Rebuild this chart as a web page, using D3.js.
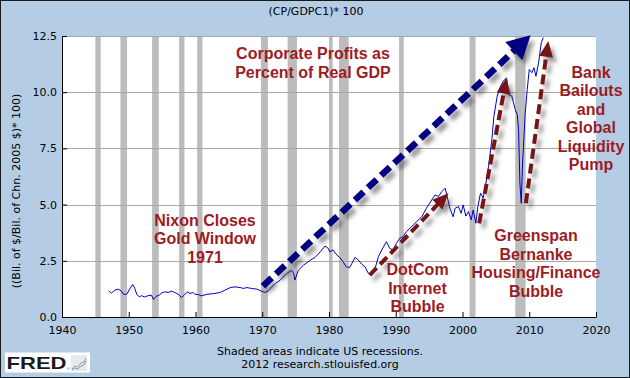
<!DOCTYPE html>
<html><head><meta charset="utf-8">
<script src="https://cdn.jsdelivr.net/npm/d3@7"></script>
<style>html,body{margin:0;padding:0;background:#fff;}svg{display:block;}</style>
</head><body>
<script>
// ---- data ----
const years = [1947.0,1947.4,1947.9,1948.4,1948.9,1949.2,1949.7,1950.2,1950.6,1950.9,1951.2,1951.6,1951.9,1952.4,1952.9,1953.4,1953.7,1954.1,1954.6,1954.9,1955.4,1955.9,1956.4,1956.9,1957.4,1957.9,1958.3,1958.8,1959.2,1959.6,1959.9,1960.4,1960.9,1961.7,1962.7,1963.7,1964.4,1965.2,1965.9,1966.7,1967.2,1967.7,1968.4,1969.2,1969.9,1970.4,1970.9,1971.4,1972.0,1972.7,1973.7,1974.4,1974.7,1974.9,1975.4,1976.2,1977.2,1977.9,1978.7,1979.4,1979.9,1980.1,1980.6,1981.2,1981.6,1982.1,1982.6,1983.1,1983.9,1984.4,1984.9,1985.4,1985.9,1986.4,1986.9,1987.4,1987.9,1988.6,1989.1,1989.6,1990.1,1990.6,1991.1,1991.6,1992.4,1993.1,1993.9,1994.6,1995.4,1995.9,1996.4,1996.9,1997.4,1997.7,1998.1,1998.6,1998.9,1999.4,1999.8,2000.1,2000.5,2000.9,2001.3,2001.6,2002.0,2002.3,2002.7,2003.1,2003.6,2003.9,2004.4,2004.7,2005.2,2005.6,2006.1,2006.6,2006.9,2007.4,2007.9,2008.2,2008.4,2008.6,2008.8,2009.0,2009.4,2009.7,2010.0,2010.4,2010.7,2011.0,2011.4,2011.8,2012.1];
const profitsPct = [1.17,1.06,1.19,1.24,1.16,1.01,1.01,1.27,1.45,1.27,1.01,0.89,0.95,0.89,0.95,0.97,0.78,0.92,0.97,1.07,1.12,1.09,1.15,1.09,1.01,0.87,0.97,1.12,1.04,1.10,1.01,1.00,0.94,1.01,1.04,1.09,1.19,1.31,1.34,1.31,1.27,1.31,1.27,1.24,1.15,1.09,1.16,1.34,1.50,1.64,1.94,2.08,1.94,1.64,2.08,2.31,2.53,2.65,2.90,3.16,3.05,2.90,2.98,2.75,2.65,2.46,2.23,2.20,2.65,2.53,2.35,2.23,1.94,1.86,2.16,2.68,2.98,3.35,3.05,2.98,3.28,3.50,3.57,3.80,4.02,4.24,4.46,4.84,5.21,5.43,5.36,5.58,5.73,5.36,4.84,4.46,4.84,4.91,4.61,4.99,4.49,4.69,4.32,4.76,4.17,4.91,5.51,5.29,6.10,6.70,7.89,8.93,9.82,10.20,10.49,10.64,9.90,9.82,9.23,9.00,8.33,5.96,5.06,6.85,9.08,10.12,11.01,10.87,11.09,10.71,11.31,12.20,12.43];
const recessionStart = [1945.0,1948.75,1953.5,1957.55,1960.25,1969.8,1973.8,1980.0,1981.5,1990.5,2001.05,2007.9];
const recessionEnd   = [1945.8,1949.75,1954.5,1958.35,1961.05,1970.85,1975.2,1980.55,1982.95,1991.2,2001.95,2009.45];
const xTicks = [1940,1950,1960,1970,1980,1990,2000,2010,2020];
const yTicks = [0,2.5,5,7.5,10,12.5];
const titleText = "(CP/GDPC1)* 100";
const yLabelText = "((Bil. of $/Bil. of Chn. 2005 $)* 100)";
const footerLines = ["Shaded areas indicate US recessions.","2012 research.stlouisfed.org"];
// annotation arrows: [startYear, startValue, tipYear, tipValue]
const arrowBlue = [1970.1, 1.37, 2010.2, 12.53];
const arrowDotCom = [1986.1, 1.86, 1997.9, 5.51];
const arrowHousing = [2002.5, 4.17, 2006.6, 10.64];
const arrowBailout = [2009.5, 5.06, 2012.85, 12.28];
// annotation texts: lines, centre year, first-baseline value
const noteTitle = ["Corporate Profits as","Percent of Real GDP"];
const noteNixon = ["Nixon Closes","Gold Window","1971"];
const noteDotCom = ["DotCom","Internet","Bubble"];
const noteHousing = ["Greenspan","Bernanke","Housing/Finance","Bubble"];
const noteBailout = ["Bank","Bailouts","and","Global","Liquidity","Pump"];

const W = 630, H = 378;
const svg = d3.select("body").append("svg").attr("width", W).attr("height", H);
const defs = svg.append("defs");
defs.append("clipPath").attr("id","plotclip").append("rect")
  .attr("x",62).attr("y",36).attr("width",534).attr("height",281);
const f = defs.append("filter").attr("id","shadow").attr("x","-20%").attr("y","-20%").attr("width","150%").attr("height","150%");
f.append("feDropShadow").attr("dx",4).attr("dy",5).attr("stdDeviation",2.2)
  .attr("flood-color","#444").attr("flood-opacity",0.55);

svg.append("rect").attr("x",0.5).attr("y",0.5).attr("width",W-1).attr("height",H-1)
  .attr("fill","#b4cde4").attr("stroke","#1a1a1a");

const x = d3.scaleLinear().domain([1940,2020]).range([62,596]);
const y = d3.scaleLinear().domain([0,12.5]).range([317,36]);

svg.append("rect").attr("x",x(1940)).attr("y",y(12.5)).attr("width",x(2020)-x(1940)).attr("height",y(0)-y(12.5)).attr("fill","#fff");

// recessions
svg.append("g").selectAll("rect").data(recessionStart).join("rect")
  .attr("x",(d)=>x(d)).attr("y",y(12.5))
  .attr("width",(d,i)=>x(recessionEnd[i])-x(d)).attr("height",y(0)-y(12.5))
  .attr("fill","#bcbcbc");

// gridlines
svg.append("g").selectAll("line").data(yTicks.filter(d=>d>0)).join("line")
  .attr("x1",x(1940)).attr("x2",x(2020)).attr("y1",d=>Math.round(y(d))+0.5).attr("y2",d=>Math.round(y(d))+0.5)
  .attr("stroke","#a8a8a8").attr("stroke-width",1);

// axes
const fontAxis = "DejaVu Sans, Verdana, sans-serif";
const gx = svg.append("g").attr("transform",`translate(0,${y(0)})`)
  .call(d3.axisBottom(x).tickValues(xTicks).tickFormat(d3.format("d")).tickSize(-5).tickSizeOuter(0).tickPadding(9));
const gy = svg.append("g").attr("transform",`translate(${x(1940)},0)`)
  .call(d3.axisLeft(y).tickValues(yTicks).tickFormat(d3.format(".1f")).tickSize(-5).tickSizeOuter(0).tickPadding(5));
[gx,gy].forEach(g=>{
  g.selectAll("text").attr("font-family",fontAxis).attr("font-size",11).attr("fill","#000");
  g.selectAll("line,path").attr("stroke","#000");
});

// data line
svg.append("path").datum(years.map((yr,i)=>[yr,profitsPct[i]]))
  .attr("clip-path","url(#plotclip)")
  .attr("fill","none").attr("stroke","#0000cc").attr("stroke-width",1)
  .attr("d", d3.line().x(d=>x(d[0])).y(d=>y(d[1])));

// arrows
function arrow(a, color, width, dash, headLen, headHalf){
  const x0=x(a[0]), y0=y(a[1]), x1=x(a[2]), y1=y(a[3]);
  const dx=x1-x0, dy=y1-y0, L=Math.hypot(dx,dy), ux=dx/L, uy=dy/L;
  const bx=x1-ux*headLen, by=y1-uy*headLen;
  const g=svg.append("g").attr("filter","url(#shadow)");
  g.append("line").attr("x1",x0).attr("y1",y0).attr("x2",bx+ux*2).attr("y2",by+uy*2)
    .attr("stroke",color).attr("stroke-width",width).attr("stroke-dasharray",dash);
  g.append("path").attr("fill",color)
    .attr("d",`M${x1},${y1}L${bx-uy*headHalf},${by+ux*headHalf}L${bx+uy*headHalf},${by-ux*headHalf}Z`);
}
arrow(arrowBlue,"#000080",6.5,"12,6",23,12.5);
const darkRed="#741418";
arrow(arrowDotCom,darkRed,4,"10,5",16,7);
arrow(arrowHousing,darkRed,4,"10,5",16,7);
arrow(arrowBailout,darkRed,4,"10,5",16,7);

// annotation texts
const noteColor="#9b1c24";
function note(lines, cx, firstBaseline){
  svg.append("g").selectAll("text").data(lines).join("text")
    .attr("x",cx).attr("y",(d,i)=>firstBaseline+i*18.5)
    .attr("text-anchor","middle")
    .attr("font-family","Liberation Sans, Arial, sans-serif").attr("font-weight","bold").attr("font-size",16)
    .attr("fill",noteColor).text(d=>d);
}
note(noteTitle, 313, 59);
note(noteNixon, 205, 225.5);
note(noteDotCom, 417.5, 275);
note(noteHousing, 536, 241);
note(noteBailout, 591, 77.5);

// title, y label, footer
svg.append("text").attr("x",316).attr("y",14.5).attr("text-anchor","middle")
  .attr("font-family",fontAxis).attr("font-size",11).attr("fill","#000").text(titleText);
svg.append("text").attr("transform","translate(20,191) rotate(-90)").attr("text-anchor","middle")
  .attr("font-family",fontAxis).attr("font-size",11).attr("fill","#000").text(yLabelText);
svg.append("g").selectAll("text").data(footerLines).join("text")
  .attr("x",320).attr("y",(d,i)=>355+i*12.5).attr("text-anchor","middle")
  .attr("font-family",fontAxis).attr("font-size",11).attr("fill","#000").text(d=>d);

// FRED logo
const logo = svg.append("g");
logo.append("rect").attr("x",5).attr("y",352.5).attr("width",85).attr("height",20).attr("fill","#fff");
logo.append("text").attr("x",6.5).attr("y",369).attr("textLength",60).attr("lengthAdjust","spacingAndGlyphs")
  .attr("font-family","Liberation Sans, Arial, sans-serif").attr("font-weight","bold").attr("font-size",16.5)
  .attr("fill","#1a1a1a").text("FRED");
logo.append("text").attr("x",67).attr("y",370).attr("font-family","Liberation Sans, Arial, sans-serif").attr("font-size",4).attr("fill","#555").text("®");
logo.append("rect").attr("x",71).attr("y",355).attr("width",16).attr("height",16).attr("fill","#e6eaee");
logo.append("path").attr("d","M72,369L75,366L78,367L81,363L84,362L86,358").attr("fill","none").attr("stroke","#7fb07a").attr("stroke-width",1);
logo.append("path").attr("d","M72,370L75,368L78,369L81,366L84,365L86,361").attr("fill","none").attr("stroke","#7a9cc6").attr("stroke-width",1);
</script>
</body></html>
